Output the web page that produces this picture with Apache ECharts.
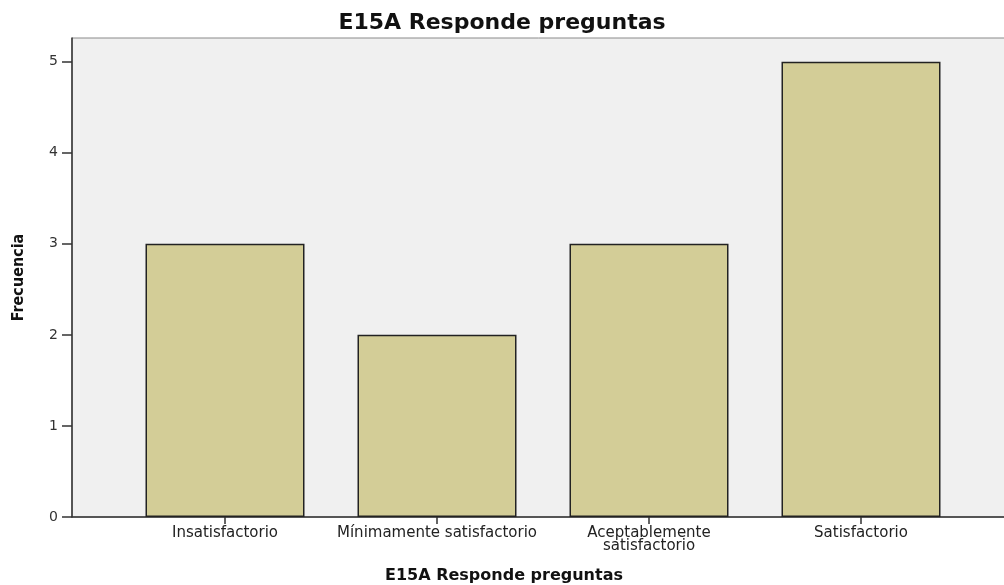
<!DOCTYPE html>
<html>
<head>
<meta charset="utf-8">
<script src="https://cdn.jsdelivr.net/npm/echarts@6/dist/echarts.min.js"></script>
<style>
  html, body { margin: 0; padding: 0; background: #fff; }
  #chart { width: 1004px; height: 585px; }
</style>
</head>
<body>
<div id="chart"></div>
<script>
    var categories = ['Insatisfactorio', 'Mínimamente satisfactorio', 'Aceptablemente\nsatisfactorio', 'Satisfactorio'];
    var frecuencias = [3, 2, 3, 5];
    var yTicks = [0, 1, 2, 3, 4, 5];

    var chart = echarts.init(document.getElementById('chart'));
    var yMax = 5.26;

    var option = {
        animation: false,
        title: {
            text: 'E15A Responde preguntas',
            left: 'center',
            top: 7,
            textStyle: { fontFamily: 'DejaVu Sans', fontWeight: 'bold', fontSize: 22, color: '#111' }
        },
        grid: [
            // fondo gris y eje Y
            { left: 72, right: -2, top: 38, bottom: 68, outerBoundsMode: 'none', containLabel: false,
              show: true, backgroundColor: '#f0f0f0', borderColor: '#8a8a8a', borderWidth: 1 },
            // barras
            { left: 119, width: 848, top: 38, bottom: 68, outerBoundsMode: 'none', containLabel: false }
        ],
        xAxis: [
            {
                gridIndex: 0, type: 'value', min: 0, max: 1,
                axisLine: { show: true, onZero: false, lineStyle: { color: '#333', width: 1.5 } },
                axisTick: { show: false }, axisLabel: { show: false }, splitLine: { show: false },
                name: 'E15A Responde preguntas', nameLocation: 'middle', nameGap: 51,
                nameTextStyle: { fontFamily: 'DejaVu Sans', fontWeight: 'bold', fontSize: 16, color: '#111', padding: [0, 70, 0, 0] }
            },
            {
                gridIndex: 1, type: 'category', data: categories,
                axisLine: { show: false },
                axisTick: { show: true, alignWithLabel: true, length: 7, lineStyle: { color: '#333', width: 1.5 } },
                axisLabel: { fontFamily: 'DejaVu Sans', fontSize: 15, color: '#222', margin: 10, lineHeight: 13, interval: 0 }
            }
        ],
        yAxis: [
            {
                gridIndex: 0, type: 'value', min: 0, max: yMax, interval: 1,
                axisLine: { show: true, lineStyle: { color: '#333', width: 1.5 } },
                axisTick: { show: true, length: 10, lineStyle: { color: '#333', width: 1.5 } },
                axisLabel: {
                    fontFamily: 'DejaVu Sans', fontSize: 14, color: '#333', margin: 14,
                    showMaxLabel: false,
                    formatter: function (v) { return yTicks.indexOf(v) >= 0 ? String(v) : ''; }
                },
                splitLine: { show: false },
                name: 'Frecuencia', nameLocation: 'middle', nameGap: 45, nameRotate: 90,
                nameTextStyle: { fontFamily: 'DejaVu Sans Condensed', fontWeight: 'bold', fontSize: 16, color: '#111' }
            },
            {
                gridIndex: 1, type: 'value', min: 0, max: yMax,
                show: false
            }
        ],
        series: [{
            name: 'Frecuencia',
            type: 'bar',
            xAxisIndex: 1,
            yAxisIndex: 1,
            barCategoryGap: '25%',
            data: frecuencias,
            itemStyle: { color: '#d3cd97', borderColor: '#222', borderWidth: 1.5 }
        }]
    };
    chart.setOption(option);
</script>
</body>
</html>
